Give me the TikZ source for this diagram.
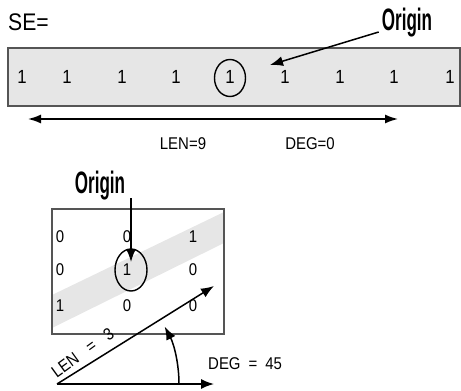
\documentclass[tikz,border=0pt]{standalone}
\usepackage{fontspec}
\setmainfont{Liberation Sans}[FakeStretch=0.88]
\newfontfamily\orfont{Liberation Sans Bold}[FakeStretch=0.55]
\usetikzlibrary{arrows.meta,shapes.geometric}
\definecolor{bandgray}{HTML}{E6E6E6}
\definecolor{edgegray}{HTML}{555555}
\begin{document}
\begin{tikzpicture}[x=1pt,y=1pt,
  txt/.style={inner sep=0pt,font=\fontsize{20}{22}\selectfont},
  dig/.style={inner sep=0pt,font=\fontsize{19}{21}\selectfont},
  small/.style={inner sep=0pt,font=\fontsize{17}{19}\selectfont},
  orig/.style={inner sep=0pt,font=\orfont\fontsize{31}{33}\selectfont},
  ring/.style={draw,ellipse,line width=1.4pt,inner sep=0pt},
  arr/.style={line width=1.5pt,-{Latex[length=13pt,width=10pt]}},
  dbl/.style={line width=1.5pt,{Latex[length=13pt,width=9pt]}-{Latex[length=13pt,width=9pt]}},
  frame/.style={draw=edgegray,line width=2pt}]
\useasboundingbox (0,0) rectangle (461,-391);
% top part
\node[txt,anchor=west,font=\fontsize{24}{26}\selectfont] (se) at (8,-22) {SE=};
\node[orig] (o1) at (407,-23) {Origin};
\node[frame,fill=bandgray,minimum width=452pt,minimum height=58pt,inner sep=0pt] (bar) at (234,-77) {};
\foreach \x [count=\i] in {22,67,122,176,230,285,340,394,450}
  \node[dig] (d\i) at (\x,-77) {1};
\node[ring,minimum width=31pt,minimum height=37pt] (c1) at (230,-78) {};
\coordinate (t1) at (270,-65);
\draw[arr] ([shift={(-3pt,-9pt)}]o1.west) -- (t1);
\coordinate (la) at (28,-119);
\coordinate (lb) at (398,-119);
\draw[dbl] (la) -- (lb);
\node[small] (len9) at (183,-144) {LEN=9};
\node[small] (deg0) at (310,-144) {DEG=0};
% bottom part
\node[orig] (o2) at (100,-186) {Origin};
\fill[bandgray] (52,-295) -- (224,-212) -- (224,-243) -- (52,-328) -- cycle;
\node[frame,minimum width=172pt,minimum height=125pt,inner sep=0pt] (box) at (138,-271.5) {};
\node[small] (b11) at (60,-237) {0};
\node[small] (b12) at (127,-237) {0};
\node[small] (b13) at (193,-237) {1};
\node[small] (b21) at (60,-270) {0};
\node[small] (b22) at (127,-270) {1};
\node[small] (b23) at (193,-270) {0};
\node[small] (b31) at (60,-306) {1};
\node[small] (b32) at (127,-306) {0};
\node[small] (b33) at (193,-306) {0};
\node[ring,minimum width=32pt,minimum height=42pt] (c2) at (131,-270) {};
\coordinate (s2) at (131,-198);
\coordinate (t2) at (131,-262);
\draw[arr] (s2) -- (t2);
\coordinate (O) at (57,-384);
\coordinate (lenTip) at (214,-286);
\coordinate (degTip) at (214,-384);
\draw[arr] (O) -- (lenTip);
\draw[arr] (O) -- (degTip);
\draw[arr] ([shift={(0:122pt)}]O) arc[start angle=0,end angle=28,radius=122pt];
\node[small,rotate=36,anchor=south west] (len3) at (57,-379) {LEN\hspace{13pt}=\hspace{13pt}3};
\node[small,anchor=west] (deg45) at (208,-364) {DEG\hspace{8pt}=\hspace{8pt}45};
\end{tikzpicture}
\end{document}
